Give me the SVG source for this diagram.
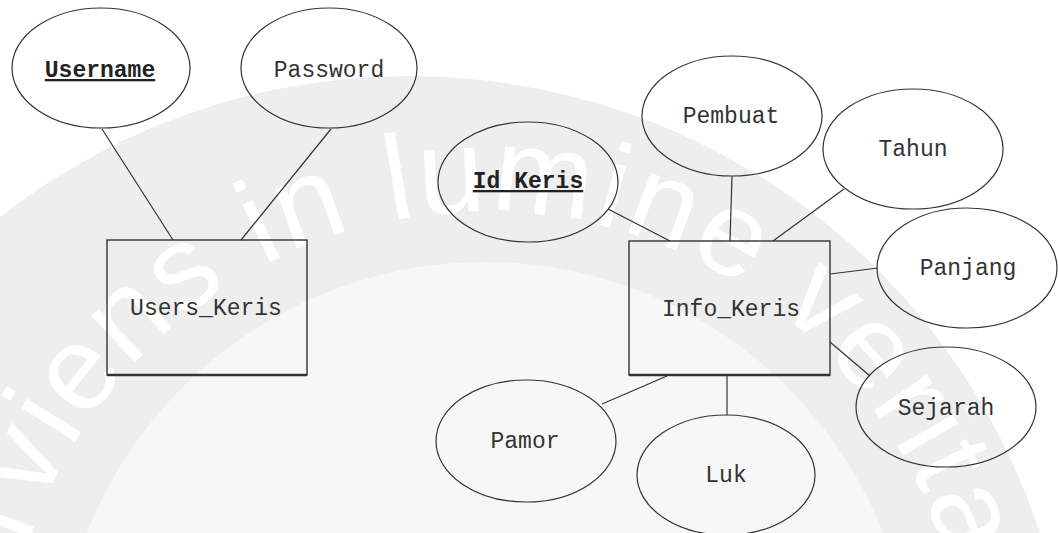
<svg xmlns="http://www.w3.org/2000/svg" width="1058" height="533" viewBox="0 0 1058 533">
  <style>
    .attr { fill: none; stroke: #333; stroke-width: 1.2; }
    .ent { fill: none; stroke: #333; stroke-width: 1.4; }
    .base { stroke: #333; stroke-width: 2.4; }
    .lbl { font-family: "Liberation Mono", "Courier New", monospace; font-size: 23px; fill: #333; text-anchor: middle; }
    .key { font-weight: bold; fill: #222; text-decoration: underline; }
    .links line { stroke: #333; stroke-width: 1.2; }
    .mark { font-family: "Liberation Sans", Arial, sans-serif; font-size: 120px; letter-spacing: 3px; fill: #ffffff; }
  </style>
  <defs>
    <path id="motto" d="M 12 773 A 480 480 0 1 1 958 773"/>
  </defs>

  <rect width="1058" height="533" fill="#ffffff"/>

  <!-- seal in the background -->
  <g id="seal">
    <circle cx="409" cy="740" r="664" fill="#eeeeee"/>
    <circle cx="485" cy="690" r="428" fill="#f7f7f7"/>
    <text class="mark"><textPath href="#motto" startOffset="78">Serviens in lumine veritatis</textPath></text>
  </g>

  <!-- relationships between entities and attributes -->
  <g class="links" id="connectors">
    <line x1="102" y1="129" x2="173" y2="240"/>
    <line x1="331" y1="129" x2="241" y2="240"/>
    <line x1="608" y1="209" x2="670" y2="241"/>
    <line x1="732" y1="176" x2="730" y2="241"/>
    <line x1="844" y1="189" x2="773" y2="241"/>
    <line x1="878" y1="268" x2="830" y2="274"/>
    <line x1="830" y1="342" x2="870" y2="376"/>
    <line x1="602" y1="404" x2="667" y2="376"/>
    <line x1="727" y1="375" x2="727" y2="415"/>
  </g>

  <g id="users-keris">
    <rect class="ent" x="107" y="240" width="200" height="135"/>
    <line class="base" x1="107" y1="375" x2="307" y2="375"/>
    <text class="lbl" x="206" y="315">Users_Keris</text>
  </g>
  <g id="username">
    <ellipse class="attr" cx="101" cy="68" rx="89" ry="60"/>
    <text class="lbl key" x="100" y="77">Username</text>
  </g>
  <g id="password">
    <ellipse class="attr" cx="329" cy="68" rx="88" ry="60"/>
    <text class="lbl" x="329" y="77">Password</text>
  </g>

  <g id="info-keris">
    <rect class="ent" x="629" y="241" width="201" height="134"/>
    <line class="base" x1="629" y1="375" x2="830" y2="375"/>
    <text class="lbl" x="731" y="316">Info_Keris</text>
  </g>
  <g id="id-keris">
    <ellipse class="attr" cx="528" cy="182" rx="90" ry="60"/>
    <text class="lbl key" x="528" y="188">Id Keris</text>
  </g>
  <g id="pembuat">
    <ellipse class="attr" cx="732" cy="116" rx="90" ry="60"/>
    <text class="lbl" x="731" y="123">Pembuat</text>
  </g>
  <g id="tahun">
    <ellipse class="attr" cx="913" cy="149" rx="90" ry="60"/>
    <text class="lbl" x="913" y="156">Tahun</text>
  </g>
  <g id="panjang">
    <ellipse class="attr" cx="967" cy="268" rx="90" ry="60"/>
    <text class="lbl" x="968" y="275">Panjang</text>
  </g>
  <g id="sejarah">
    <ellipse class="attr" cx="946" cy="407" rx="90" ry="60"/>
    <text class="lbl" x="946" y="415">Sejarah</text>
  </g>
  <g id="pamor">
    <ellipse class="attr" cx="526" cy="441" rx="90" ry="61"/>
    <text class="lbl" x="525" y="448">Pamor</text>
  </g>
  <g id="luk">
    <ellipse class="attr" cx="726" cy="475" rx="89" ry="60"/>
    <text class="lbl" x="726" y="482">Luk</text>
  </g>
</svg>
